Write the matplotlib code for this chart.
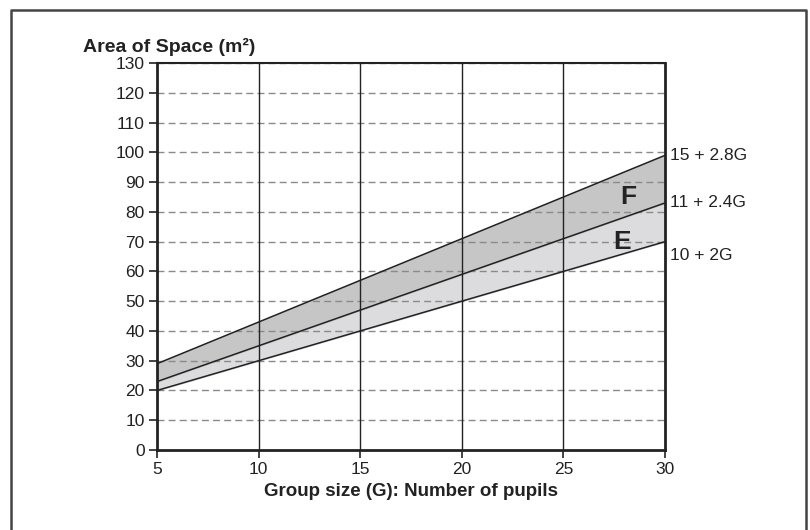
import matplotlib
matplotlib.use("Agg")
import matplotlib.pyplot as plt
import numpy as np
from matplotlib.lines import Line2D

plt.rcParams['font.family'] = ['Liberation Sans', 'DejaVu Sans']

group_size = [5, 30]
lower = [20, 70]      # 10 + 2G
middle = [23, 83]     # 11 + 2.4G
upper = [29, 99]      # 15 + 2.8G
line_labels = ["15 + 2.8G", "11 + 2.4G", "10 + 2G"]
label_y = [99, 83, 65.5]
x_ticks = [5, 10, 15, 20, 25, 30]
y_ticks = list(range(0, 131, 10))

W, H = 810, 530
fig = plt.figure(figsize=(8.1, 5.3), dpi=100)
ax = fig.add_axes([0.194, 0.151, 0.627, 0.730])

ax.fill_between(group_size, lower, middle, color="#dcdcde", zorder=1)
ax.fill_between(group_size, middle, upper, color="#c6c6c6", zorder=1)
for s in (lower, middle, upper):
    ax.plot(group_size, s, color="#222222", lw=1.1, zorder=3)

ax.set_xlim(5, 30)
ax.set_ylim(0, 130)
ax.set_xticks(x_ticks)
ax.set_yticks(y_ticks)
for y in y_ticks[1:]:
    ax.axhline(y, color="#8a8a8a", lw=1.0, ls=(0, (5, 3)), zorder=2)
for x in x_ticks[1:-1]:
    ax.axvline(x, color="#222222", lw=1.0, zorder=2)

for side in ("left", "bottom", "right"):
    ax.spines[side].set_linewidth(2.0)
ax.spines["top"].set_linewidth(1.5)
for sp in ax.spines.values():
    sp.set_color("#222222")
    sp.set_zorder(4)
ax.tick_params(axis="both", direction="out", length=6, width=1.2, color="#222222",
               labelsize=12.5, labelcolor="#222222", pad=3)

for lab, y in zip(line_labels, label_y):
    ax.text(30.25, y, lab, fontsize=12.5, color="#222222", va="center", ha="left",
            clip_on=False)
ax.text(28.2, 85, "F", fontsize=19, fontweight="bold", color="#222222", ha="center", va="center")
ax.text(27.9, 70, "E", fontsize=19, fontweight="bold", color="#222222", ha="center", va="center")

ax.set_xlabel("Group size (G): Number of pupils", fontsize=13.5, fontweight="bold",
              color="#222222", labelpad=4)
fig.text(83 / W, 1 - 47 / H, "Area of Space (m²)", fontsize=14, fontweight="bold",
         color="#222222", ha="left", va="center")

xl, xr, yt, yb = 11 / W, 806 / W, 1 - 10 / H, -0.01
fig.lines.append(Line2D([xl, xl, xr, xr], [yb, yt, yt, yb], transform=fig.transFigure,
                        color="#444444", lw=1.8))

fig.savefig("out.png", dpi=100)
